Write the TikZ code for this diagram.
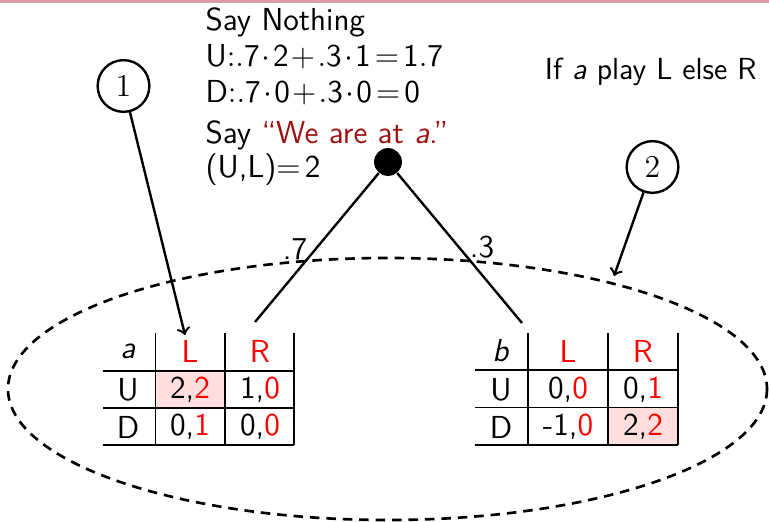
\documentclass[tikz,border=0pt]{standalone}
\usepackage{fontspec}
\definecolor{payred}{rgb}{1,0,0}
\definecolor{alertred}{rgb}{0.62,0.06,0.06}
\definecolor{cellpink}{rgb}{1,0.87,0.87}
\definecolor{bandpink}{rgb}{0.86,0.62,0.64}
\begin{document}
\begin{tikzpicture}[x=0.3771pt,y=-0.3771pt,
  every node/.style={font=\sffamily\fontsize{12}{14}\selectfont, inner sep=0pt},
  txt/.style={anchor=base west},
  cell/.style={anchor=center},
  numcirc/.style={draw, line width=0.9pt, circle, minimum size=19.5pt, font=\rmfamily\fontsize{12}{14}\selectfont},
  rootdot/.style={circle, fill=black, minimum size=10.5pt},
  conn/.style={line width=0.9pt},
  ptr/.style={line width=0.9pt, ->},
  grid/.style={line width=0.45pt},
  infoset/.style={line width=1pt, dash pattern=on 3.6pt off 2.6pt}
]
\useasboundingbox (0,0) rectangle (769,522);
\fill[bandpink] (0,0) rectangle (769,3);
\medmuskip=1.3mu plus 1mu minus 1mu
\thickmuskip=2.3mu plus 2mu

% text block
\node[txt] (t1) at (205,31) {Say Nothing};
\node[txt] (t2) at (205,67) {$\mathsf{U{:}.7}\cdot\mathsf{2}+\mathsf{.3}\cdot\mathsf{1}=\mathsf{1.7}$};
\node[txt] (t3) at (205,103) {$\mathsf{D{:}.7}\cdot\mathsf{0}+\mathsf{.3}\cdot\mathsf{0}=\mathsf{0}$};
\node[txt] (t4) at (205,144) {Say \textcolor{alertred}{``We are at \textit{a}.''}};
\node[txt] (t5) at (205,178) {(U,L)$=\mathsf{2}$};
\node[anchor=base east, font=\sffamily\fontsize{11.5}{14}\selectfont] (t6) at (757,80) {If \textit{a} play L else R};

% info set
\draw[infoset] (387.5,389) ellipse [x radius=379.5, y radius=131];

% root
\node[rootdot] (root) at (388,162) {};
\coordinate (ta) at (255,322);
\coordinate (tb) at (522,323);
\draw[conn] (root) -- (ta);
\draw[conn] (root) -- (tb);
\node (p7) at (295,249) {.7};
\node (p3) at (482,247) {.3};

% numbered circles
\node[numcirc] (c1) at (123.5,86) {1};
\node[numcirc] (c2) at (652.5,167) {2};
\coordinate (a1) at (185,335);
\coordinate (a2) at (614,276);
\draw[ptr] (c1) -- (a1);
\draw[ptr] (c2) -- (a2);

% table a
\fill[cellpink] (156,372) rectangle (225,408);
\draw[grid] (103,371) -- (294,371) (103,408) -- (294,408) (103,445) -- (294,445);
\draw[grid] (155.5,333) -- (155.5,445) (225,333) -- (225,445) (294,333) -- (294,445);
\node[cell] (aa) at (128,351) {\textit{a}};
\node[cell, text=payred] (aL) at (190,351) {L};
\node[cell, text=payred] (aR) at (260,351) {R};
\node[cell] (aU) at (128,390) {U};
\node[cell] (aUL) at (190,390) {2,\textcolor{payred}{2}};
\node[cell] (aUR) at (260,390) {1,\textcolor{payred}{0}};
\node[cell] (aD) at (128,427) {D};
\node[cell] (aDL) at (190,427) {0,\textcolor{payred}{1}};
\node[cell] (aDR) at (260,427) {0,\textcolor{payred}{0}};

% table b
\fill[cellpink] (608,408) rectangle (678,445);
\draw[grid] (475,370) -- (678,370) (475,407.5) -- (678,407.5) (475,445) -- (678,445);
\draw[grid] (528,333) -- (528,445) (608,333) -- (608,445) (678,333) -- (678,445);
\node[cell] (bb) at (501,351) {\textit{b}};
\node[cell, text=payred] (bL) at (568,351) {L};
\node[cell, text=payred] (bR) at (643,351) {R};
\node[cell] (bU) at (501,390) {U};
\node[cell] (bUL) at (568,390) {0,\textcolor{payred}{0}};
\node[cell] (bUR) at (643,390) {0,\textcolor{payred}{1}};
\node[cell] (bD) at (501,427) {D};
\node[cell] (bDL) at (568,427) {-1,\textcolor{payred}{0}};
\node[cell] (bDR) at (643,427) {2,\textcolor{payred}{2}};
\end{tikzpicture}
\end{document}
